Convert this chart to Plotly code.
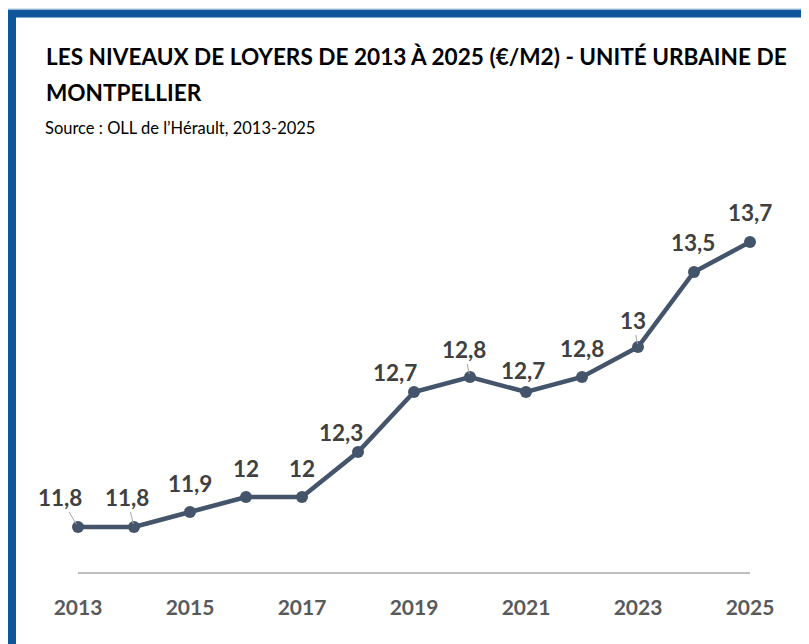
import plotly.graph_objects as go

years = [2013, 2014, 2015, 2016, 2017, 2018, 2019, 2020, 2021, 2022, 2023, 2024, 2025]
loyers = [11.8, 11.8, 11.9, 12.0, 12.0, 12.3, 12.7, 12.8, 12.7, 12.8, 13.0, 13.5, 13.7]
labels = ["11,8", "11,8", "11,9", "12", "12", "12,3", "12,7", "12,8", "12,7", "12,8", "13", "13,5", "13,7"]
tick_years = [2013, 2015, 2017, 2019, 2021, 2023, 2025]

# label offsets in pixels (style) and whether a leader line is drawn
label_dx = [-18, -7, 0, 0, 0, -17, -19, -6, -3, 0, -5, -1, 0]
label_dy = [-30, -30, -29, -29, -29, -20, -20, -28, -22, -29, -27, -30, -30]
leader = [True, True, False, False, False, False, False, True, False, False, True, False, False]

W, H = 809, 644
OFF = 8  # page body margin
L, T = 78 - OFF, 197 - OFF
pw, ph = 672, 375
R = W - L - pw
B = H - T - ph


def px(x):
    return (x - OFF - L) / pw


def py(y):
    return (T + ph - (y - OFF)) / ph


FONT = "Lato"
LINE = "#44546a"

fig = go.Figure()
fig.add_trace(go.Scatter(
    x=years, y=loyers, mode="lines+markers",
    line=dict(color=LINE, width=4.5),
    marker=dict(color=LINE, size=12),
    cliponaxis=False, hoverinfo="skip", showlegend=False,
))

annotations = []
for xv, yv, t, dx, dy, ld in zip(years, loyers, labels, label_dx, label_dy, leader):
    if ld:
        annotations.append(dict(
            x=xv, y=yv, xref="x", yref="y", text=t, showarrow=True,
            ax=dx, ay=dy, arrowhead=0, arrowwidth=1, arrowcolor="#a6a6a6",
            standoff=3, font=dict(family=FONT, size=22.5, color="#404040", weight="bold"),
        ))
    else:
        annotations.append(dict(
            x=xv, y=yv, xref="x", yref="y", text=t, showarrow=False,
            xshift=dx, yshift=-dy,
            font=dict(family=FONT, size=22.5, color="#404040", weight="bold"),
        ))

annotations += [
    dict(x=px(44), y=py(56), xref="paper", yref="paper", xanchor="left", yanchor="middle",
         text="LES NIVEAUX DE LOYERS DE 2013 À 2025 (€/M2) - UNITÉ URBAINE DE",
         showarrow=False, font=dict(family=FONT, size=22.6, color="#000000", weight="bold")),
    dict(x=px(44), y=py(93), xref="paper", yref="paper", xanchor="left", yanchor="middle",
         text="MONTPELLIER",
         showarrow=False, font=dict(family=FONT, size=22.6, color="#000000", weight="bold")),
    dict(x=px(43), y=py(128), xref="paper", yref="paper", xanchor="left", yanchor="middle",
         text="Source : OLL de l’Hérault, 2013-2025",
         showarrow=False, font=dict(family=FONT, size=16.5, color="#000000")),
]

shapes = [
    dict(type="rect", xref="paper", yref="paper",
         x0=px(12), y0=py(13.5), x1=px(W + 60), y1=py(H + 60),
         line=dict(color="#0e5699", width=8), layer="above"),
    dict(type="line", xref="paper", yref="paper",
         x0=px(8), y0=py(9), x1=px(W + 20), y1=py(9),
         line=dict(color="#a9c4e0", width=1)),
]

fig.update_layout(
    width=W, height=H,
    margin=dict(l=L, r=R, t=T, b=B, autoexpand=False),
    paper_bgcolor="white", plot_bgcolor="white",
    annotations=annotations, shapes=shapes,
    xaxis=dict(
        range=[2013, 2025], tickmode="array", tickvals=tick_years,
        ticktext=[str(v) for v in tick_years],
        showgrid=False, zeroline=False, showline=True, linecolor="#bfbfbf", linewidth=2,
        ticks="", ticklabelstandoff=16,
        tickfont=dict(family=FONT, size=21, color="#595959", weight="bold"),
    ),
    yaxis=dict(range=[11.5, 14.0], visible=False, showgrid=False, zeroline=False),
)

fig.write_html("out.html")
